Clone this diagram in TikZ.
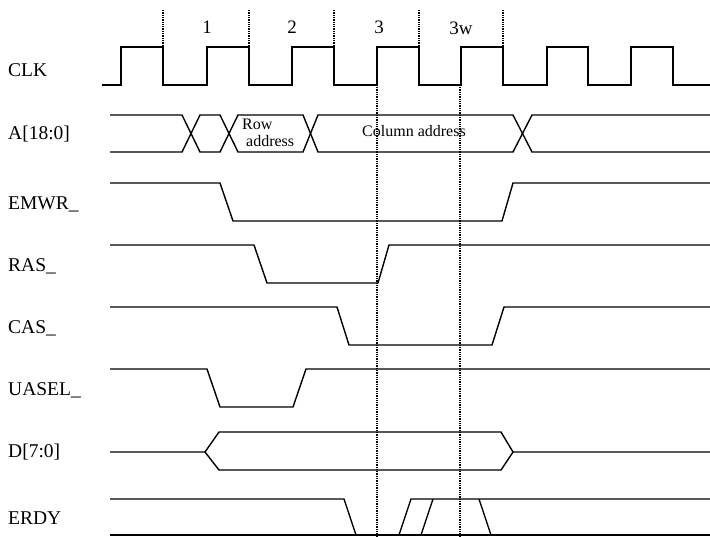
\documentclass[tikz,border=0pt]{standalone}
\usepackage{fontspec}
\setmainfont{Liberation Serif}
\usetikzlibrary{positioning}

\begin{document}
\begin{tikzpicture}[x=1pt, y=-1pt,
		wave/.style={line width=1.4pt, line join=miter},
		guide/.style={densely dotted, line width=1.3pt},
		siglabel/.style={anchor=west, inner sep=0pt, font=\fontsize{19.5}{19.5}\selectfont},
		cyclabel/.style={inner sep=0pt, font=\fontsize{19}{19}\selectfont},
		buslabel/.style={inner sep=0pt, font=\fontsize{16}{16}\selectfont}]
			\useasboundingbox (0,0) rectangle (710,536);
			
			% signal names
			\node[siglabel] (lclk) at (8,70) {CLK};
			\node[siglabel] (laddr) at (8,134) {A[18:0]};
			\node[siglabel] (lemwr) at (8,204) {EMWR\_};
			\node[siglabel] (lras) at (8,266) {RAS\_};
			\node[siglabel] (lcas) at (8,328) {CAS\_};
			\node[siglabel] (luasel) at (8,390) {UASEL\_};
			\node[siglabel] (ldata) at (8,452) {D[7:0]};
			\node[siglabel] (lerdy) at (8,518) {ERDY};
			
			% cycle numbers
			\node[cyclabel] (cyc1) at (207,27) {1};
			\node[cyclabel] (cyc2) at (292,27) {2};
			\node[cyclabel] (cyc3) at (379,27) {3};
			\node[cyclabel] (cyc3w) at (461,28) {3w};
			
			\draw[guide] (163,10) -- (163,45);
			\draw[guide] (249,10) -- (249,45);
			\draw[guide] (334,10) -- (334,45);
			\draw[guide] (419,10) -- (419,45);
			\draw[guide] (503,10) -- (503,45);
			\draw[guide] (377,87) -- (377,536);
			\draw[guide] (460,87) -- (460,536);
			
			% CLK
			\draw[wave] (102,85) -| (121,47) -| (163,85) -| (207,47) -| (249,85) -| (292,47) -| (334,85)
			-| (377,47) -| (419,85) -| (461,47) -| (503,85) -| (547,47) -| (588,85) -| (631,47) -| (673,85) -- (710,85);
			
			% A[18:0]
			\draw[wave] (110,115) -- (182,115) -- (200,152) -- (220,152) -- (238,115) -- (303,115) -- (318,152)
			-- (513,152) -- (532,115) -- (710,115);
			\draw[wave] (110,152) -- (182,152) -- (200,115) -- (220,115) -- (238,152) -- (303,152) -- (318,115)
			-- (513,115) -- (532,152) -- (710,152);
			\node[buslabel, anchor=west] (rowtxt) at (242,124) {Row};
			\node[buslabel, anchor=west] (rowaddr) at (246,141) {address};
			\node[buslabel] (coladdr) at (414,131) {Column address};
			
			% EMWR_
			\draw[wave] (110,183) -- (220,183) -- (233,221) -- (502,221) -- (513,183) -- (710,183);
			
			% RAS_
			\draw[wave] (110,245) -- (254,245) -- (267,283) -- (378,283) -- (389,245) -- (710,245);
			
			% CAS_
			\draw[wave] (110,307) -- (337,307) -- (349,345) -- (492,345) -- (504,307) -- (710,307);
			
			% UASEL_
			\draw[wave] (110,369) -- (207,369) -- (220,407) -- (293,407) -- (306,369) -- (710,369);
			
			% D[7:0]
			\draw[wave] (110,452) -- (205,452) -- (219,432) -- (501,432) -- (513,452) -- (710,452);
			\draw[wave] (205,452) -- (219,470) -- (501,470) -- (513,452);
			
			% ERDY
			\draw[wave] (110,499) -- (344,499) -- (356,535);
			\draw[wave] (110,535) -- (710,535);
			\draw[wave] (399,535) -- (411,499) -- (710,499);
			\draw[wave] (421,535) -- (433,499);
			\draw[wave] (479,499) -- (491,535);
		\end{tikzpicture}
\end{document}
